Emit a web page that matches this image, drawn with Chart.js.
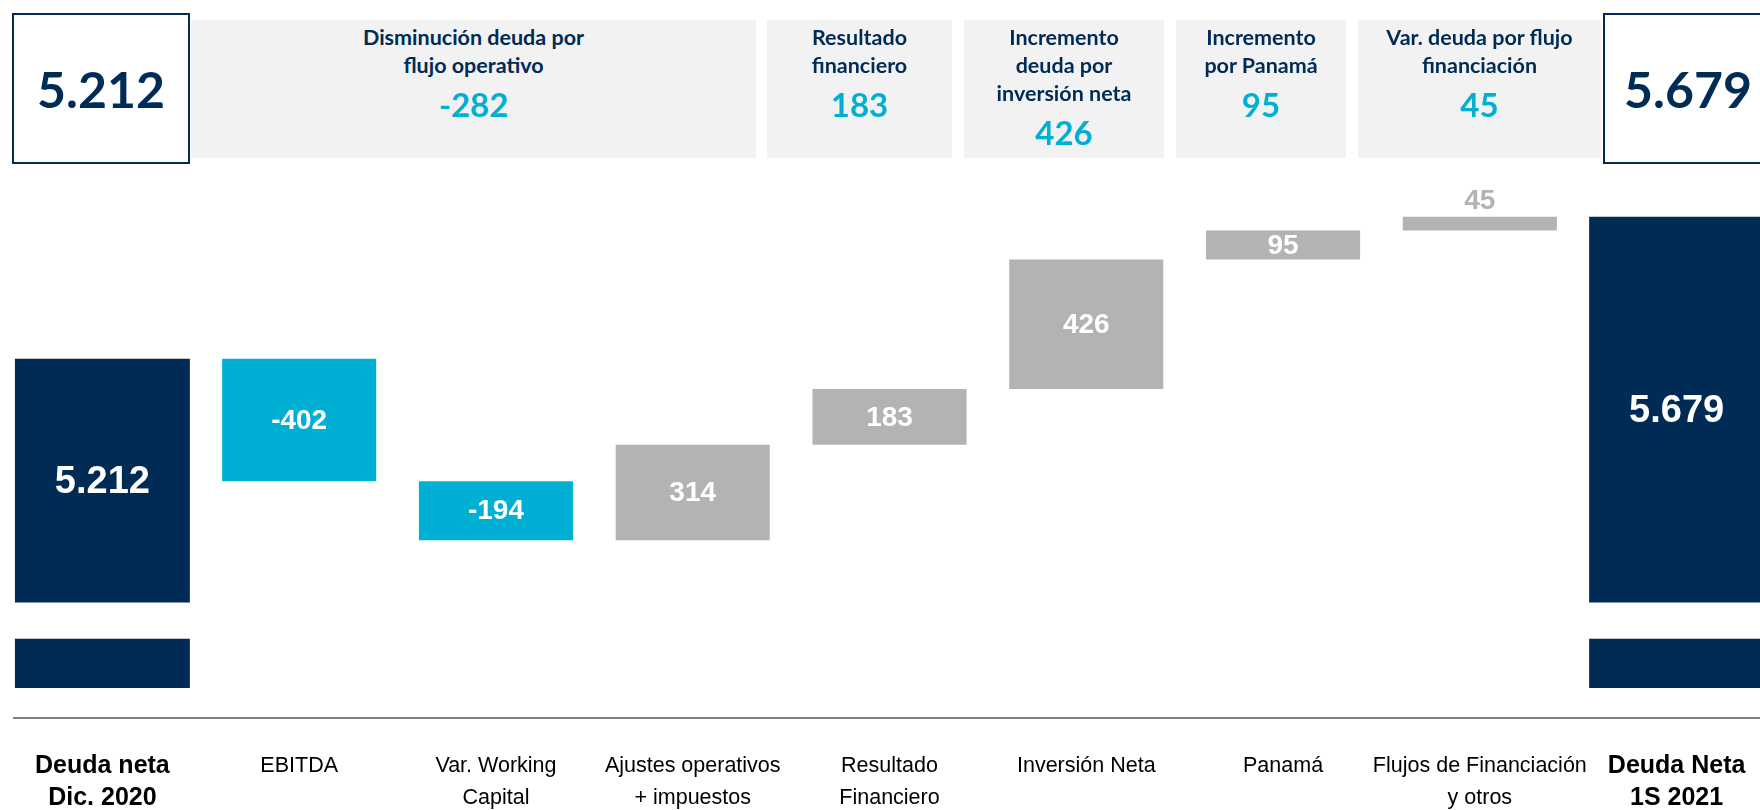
<!DOCTYPE html>
<html>
<head>
<meta charset="utf-8">
<script src="https://cdn.jsdelivr.net/npm/chart.js@4"></script>
<style>
  html, body { margin: 0; padding: 0; background: #fff; overflow: hidden; }
  #wrap { position: relative; width: 1760px; height: 810px; overflow: hidden; }
  #c { position: absolute; left: 0; top: 0; }
  .total-box {
    position: absolute; top: 13px; height: 151px; box-sizing: border-box;
    border: 2px solid #002b55; background: #fff;
    display: flex; align-items: center; justify-content: center;
    font-family: Lato, sans-serif; font-weight: bold; font-size: 50px; color: #002b55;
  }
  .grp {
    position: absolute; top: 20px; height: 138px; background: #f2f2f2;
    text-align: center; font-family: Lato, sans-serif; font-weight: bold; color: #002b55;
  }
  .grp .t { font-size: 21.5px; line-height: 28px; padding-top: 3px; }
  .grp .v { font-size: 33px; line-height: 38px; margin-top: 6px; color: #00b0d4; }
</style>
</head>
<body>
<div id="wrap">
  <canvas id="c" width="1775" height="810"></canvas>
</div>
<script>
const categories = [
  ['Deuda neta', 'Dic. 2020'], 'EBITDA', ['Var. Working', 'Capital'],
  ['Ajustes operativos', '+ impuestos'], ['Resultado', 'Financiero'],
  'Inversión Neta', 'Panamá', ['Flujos de Financiación', 'y otros'], ['Deuda Neta', '1S 2021']
];
const startDebt = 5212;
const endDebt = 5679;
const changes = [-402, -194, 314, 183, 426, 95, 45];

// header groups: which changes each summary box adds up
const groupTitles = [
  ['Disminución deuda por', 'flujo operativo'],
  ['Resultado', 'financiero'],
  ['Incremento', 'deuda por', 'inversión neta'],
  ['Incremento', 'por Panamá'],
  ['Var. deuda por flujo', 'financiación']
];
const groupMembers = [[0, 1, 2], [3], [4], [5], [6]];

const NAVY = '#002b55', CYAN = '#00b0d4', GREY = '#b2b3b2';
const BREAK = [4292, 4411]; // axis break drawn across the total bars

function fmt(v) {
  const s = Math.abs(v).toString().replace(/\B(?=(\d{3})+(?!\d))/g, '.');
  return (v < 0 ? '-' : '') + s;
}

// ---- header boxes (html) ----
const wrap = document.getElementById('wrap');
function totalBox(left, width, val) {
  const d = document.createElement('div');
  d.className = 'total-box';
  d.style.left = left + 'px';
  d.style.width = width + 'px';
  d.textContent = fmt(val);
  wrap.appendChild(d);
}
totalBox(12, 178, startDebt);
totalBox(1603, 170, endDebt);

const grpBoxes = [[191, 565], [767, 185], [964, 200], [1176, 170], [1358, 243]];
groupTitles.forEach((lines, i) => {
  const d = document.createElement('div');
  d.className = 'grp';
  d.style.left = grpBoxes[i][0] + 'px';
  d.style.width = grpBoxes[i][1] + 'px';
  const t = document.createElement('div');
  t.className = 't';
  t.innerHTML = lines.join('<br>');
  const v = document.createElement('div');
  v.className = 'v';
  v.textContent = fmt(groupMembers[i].reduce((s, k) => s + changes[k], 0));
  d.appendChild(t);
  d.appendChild(v);
  wrap.appendChild(d);
});

// ---- waterfall data ----
const totals = [startDebt, ...changes.map(() => null), endDebt];
const steps = [null];
let run = startDebt;
changes.forEach(c => {
  steps.push([run, run + c]);
  run += c;
});
steps.push(null);
const stepColors = [null, ...changes.map(c => c < 0 ? CYAN : GREY), null];

const barLabels = {
  id: 'barLabels',
  afterDatasetsDraw(chart) {
    const ctx = chart.ctx;
    const y = chart.scales.y;
    const breakTop = y.getPixelForValue(BREAK[1]);
    const breakBot = y.getPixelForValue(BREAK[0]);
    ctx.save();
    // axis break on totals
    chart.getDatasetMeta(0).data.forEach((el, i) => {
      if (totals[i] == null) return;
      ctx.fillStyle = '#fff';
      ctx.fillRect(el.x - el.width / 2 - 1, breakTop, el.width + 2, breakBot - breakTop);
    });
    ctx.textAlign = 'center';
    ctx.textBaseline = 'middle';
    chart.getDatasetMeta(0).data.forEach((el, i) => {
      if (totals[i] == null) return;
      ctx.font = 'bold 38px "Liberation Sans", Arial, sans-serif';
      ctx.fillStyle = '#fff';
      ctx.fillText(fmt(totals[i]), el.x, (el.y + breakTop) / 2 + 2);
    });
    chart.getDatasetMeta(1).data.forEach((el, i) => {
      if (steps[i] == null) return;
      const top = Math.min(el.y, el.base), bot = Math.max(el.y, el.base);
      ctx.font = 'bold 28px "Liberation Sans", Arial, sans-serif';
      if (bot - top >= 24) {
        ctx.fillStyle = '#fff';
        ctx.fillText(fmt(changes[i - 1]), el.x, (top + bot) / 2 + 1);
      } else {
        ctx.fillStyle = stepColors[i];
        ctx.fillText(fmt(changes[i - 1]), el.x, top - 16);
      }
    });
    // base line
    ctx.strokeStyle = '#808080';
    ctx.lineWidth = 2;
    ctx.beginPath();
    ctx.moveTo(13, chart.chartArea.bottom + 30);
    ctx.lineTo(chart.width, chart.chartArea.bottom + 30);
    ctx.stroke();
    ctx.restore();
  }
};

const tickFont = (ctx) => (ctx.index === 0 || ctx.index === 8)
  ? { family: '"Liberation Sans", Arial, sans-serif', size: 25, weight: 'bold', lineHeight: '32px' }
  : { family: '"Liberation Sans", Arial, sans-serif', size: 21.5, lineHeight: '32px' };

new Chart(document.getElementById('c'), {
  type: 'bar',
  data: {
    labels: categories,
    datasets: [
      {
        label: 'Deuda neta',
        data: totals,
        backgroundColor: NAVY,
        barPercentage: 0.889,
        categoryPercentage: 1,
        grouped: false
      },
      {
        label: 'Variación',
        data: steps,
        backgroundColor: stepColors,
        barPercentage: 0.783,
        categoryPercentage: 1,
        grouped: false
      }
    ]
  },
  options: {
    responsive: false,
    animation: false,
    layout: { padding: { top: 180, left: 4, right: 0, bottom: 0 } },
    plugins: {
      legend: { display: false },
      tooltip: { enabled: false }
    },
    scales: {
      x: {
        grid: { display: false, drawTicks: false },
        border: { display: false },
        ticks: {
          color: '#000',
          padding: 62,
          maxRotation: 0,
          autoSkip: false,
          font: tickFont
        },
        afterFit(scale) {
          scale.height = 122;
          scale.paddingLeft = 0;
          scale.paddingRight = 0;
        }
      },
      y: {
        display: false,
        min: 4130,
        max: 5800
      }
    }
  },
  plugins: [barLabels]
});
</script>
</body>
</html>
